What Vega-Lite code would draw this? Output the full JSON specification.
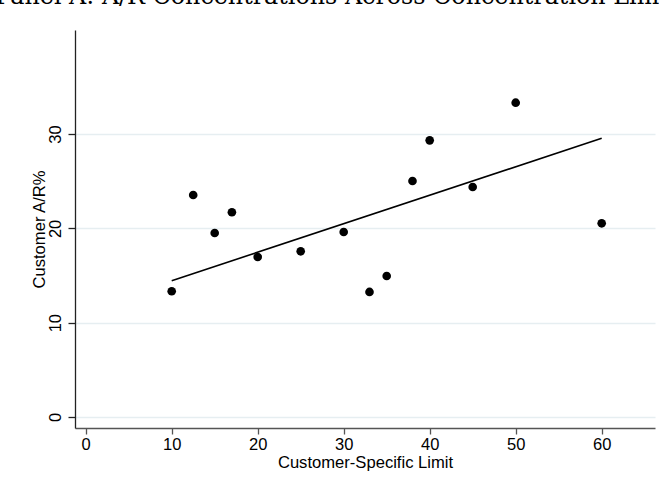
{
  "$schema": "https://vega.github.io/schema/vega-lite/v6.json",
  "width": 580,
  "height": 398,
  "autosize": "none",
  "padding": {"left": 75, "top": 30, "right": 4, "bottom": 56},
  "background": "white",
  "config": {
    "view": {"stroke": null},
    "font": "Liberation Sans"
  },
  "title": {
    "text": "Panel A: A/R Concentrations Across Concentration Limits",
    "font": "DejaVu Serif",
    "fontSize": 23.8,
    "fontWeight": "normal",
    "color": "#000000",
    "anchor": "middle",
    "frame": "group",
    "baseline": "alphabetic",
    "offset": 2,
    "dx": -23
  },
  "datasets": {
    "points": [
      {"limit": 10, "ar": 13.33},
      {"limit": 12.5, "ar": 23.54},
      {"limit": 15, "ar": 19.51},
      {"limit": 17, "ar": 21.71},
      {"limit": 20, "ar": 16.97},
      {"limit": 25, "ar": 17.57},
      {"limit": 30, "ar": 19.62},
      {"limit": 33, "ar": 13.26},
      {"limit": 35, "ar": 14.95},
      {"limit": 38, "ar": 25.03},
      {"limit": 40, "ar": 29.34},
      {"limit": 45, "ar": 24.39},
      {"limit": 50, "ar": 33.33},
      {"limit": 60, "ar": 20.54}
    ],
    "fit": [
      {"limit": 10, "ar": 14.45},
      {"limit": 60, "ar": 29.55}
    ]
  },
  "encoding": {
    "x": {
      "field": "limit",
      "type": "quantitative",
      "scale": {"domain": [-1.245, 66.2], "nice": false, "zero": false},
      "axis": {
        "title": "Customer-Specific Limit",
        "values": [0, 10, 20, 30, 40, 50, 60],
        "grid": false,
        "domainColor": "#555555",
        "domainWidth": 1.3,
        "tickColor": "#555555",
        "tickWidth": 1.3,
        "tickSize": 6,
        "labelFont": "Liberation Sans",
        "labelFontSize": 16.5,
        "labelColor": "#000000",
        "labelPadding": 2,
        "titleFont": "Liberation Sans",
        "titleFontSize": 16.6,
        "titleFontWeight": "normal",
        "titleColor": "#000000",
        "titleBaseline": "alphabetic",
        "titleY": 39
      }
    },
    "y": {
      "field": "ar",
      "type": "quantitative",
      "scale": {"domain": [-1.17, 41.04], "nice": false, "zero": false},
      "axis": {
        "title": "Customer A/R%",
        "values": [0, 10, 20, 30],
        "grid": true,
        "gridColor": "#e6eef1",
        "gridWidth": 1.3,
        "domainColor": "#222222",
        "domainWidth": 1.3,
        "tickColor": "#222222",
        "tickWidth": 1.3,
        "tickSize": 7,
        "labelAngle": -90,
        "labelAlign": "center",
        "labelBaseline": "alphabetic",
        "labelPadding": 8,
        "labelFont": "Liberation Sans",
        "labelFontSize": 16.5,
        "labelColor": "#000000",
        "titleFont": "Liberation Sans",
        "titleFontSize": 16.6,
        "titleFontWeight": "normal",
        "titleColor": "#000000",
        "titleAngle": -90,
        "titleAlign": "center",
        "titleBaseline": "alphabetic",
        "titleX": -31,
        "titleY": 199
      }
    }
  },
  "layer": [
    {
      "data": {"name": "points"},
      "mark": {"type": "circle", "size": 75, "color": "#000000", "opacity": 1}
    },
    {
      "data": {"name": "fit"},
      "mark": {"type": "line", "color": "#000000", "strokeWidth": 1.6}
    }
  ]
}
